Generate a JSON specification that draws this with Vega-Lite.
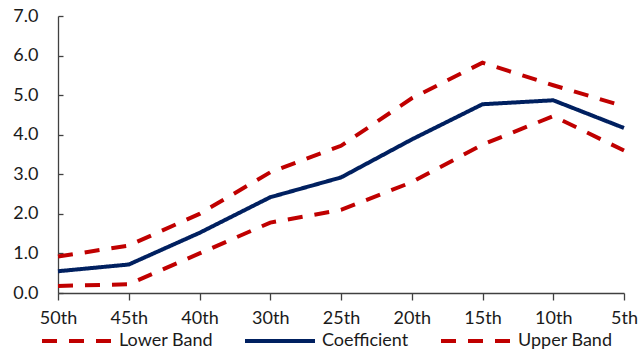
{
  "$schema": "https://vega.github.io/schema/vega-lite/v6.json",
  "autosize": "none",
  "width": 566,
  "height": 277,
  "padding": {"left": 58, "top": 16, "right": 15, "bottom": 57},
  "background": "white",
  "config": {
    "view": {"stroke": null},
    "font": "Lato",
    "axis": {"grid": false, "domainColor": "#404040", "tickColor": "#404040", "labelColor": "#1a1a1a", "labelFont": "Lato", "labelFontSize": 18, "domainWidth": 1.3, "tickWidth": 1.3}
  },
  "data": {"values": [
    {"pct": "50th", "series": "Coefficient", "value": 0.55},
    {"pct": "45th", "series": "Coefficient", "value": 0.72},
    {"pct": "40th", "series": "Coefficient", "value": 1.52},
    {"pct": "30th", "series": "Coefficient", "value": 2.42},
    {"pct": "25th", "series": "Coefficient", "value": 2.92},
    {"pct": "20th", "series": "Coefficient", "value": 3.88},
    {"pct": "15th", "series": "Coefficient", "value": 4.77},
    {"pct": "10th", "series": "Coefficient", "value": 4.87},
    {"pct": "5th", "series": "Coefficient", "value": 4.17},
    {"pct": "50th", "series": "Upper Band", "value": 0.92},
    {"pct": "45th", "series": "Upper Band", "value": 1.2},
    {"pct": "40th", "series": "Upper Band", "value": 2.0},
    {"pct": "30th", "series": "Upper Band", "value": 3.05},
    {"pct": "25th", "series": "Upper Band", "value": 3.72},
    {"pct": "20th", "series": "Upper Band", "value": 4.92},
    {"pct": "15th", "series": "Upper Band", "value": 5.82},
    {"pct": "10th", "series": "Upper Band", "value": 5.25},
    {"pct": "5th", "series": "Upper Band", "value": 4.72},
    {"pct": "50th", "series": "Lower Band", "value": 0.18},
    {"pct": "45th", "series": "Lower Band", "value": 0.22},
    {"pct": "40th", "series": "Lower Band", "value": 1.0},
    {"pct": "30th", "series": "Lower Band", "value": 1.78},
    {"pct": "25th", "series": "Lower Band", "value": 2.1},
    {"pct": "20th", "series": "Lower Band", "value": 2.8},
    {"pct": "15th", "series": "Lower Band", "value": 3.75},
    {"pct": "10th", "series": "Lower Band", "value": 4.47},
    {"pct": "5th", "series": "Lower Band", "value": 3.6}
  ]},
  "mark": {"type": "line", "strokeWidth": 4},
  "encoding": {
    "x": {"field": "pct", "type": "ordinal", "sort": ["50th","45th","40th","30th","25th","20th","15th","10th","5th"],
      "scale": {"type": "point", "padding": 0},
      "axis": {"title": null, "labelAngle": 0, "tickSize": 7, "labelPadding": 9}},
    "y": {"field": "value", "type": "quantitative", "scale": {"domain": [0, 7]},
      "axis": {"title": null, "values": [0,1,2,3,4,5,6,7], "format": ".1f", "tickSize": -5, "labelPadding": 25}},
    "color": {"field": "series", "type": "nominal",
      "scale": {"domain": ["Lower Band", "Coefficient", "Upper Band"], "range": ["#C00000", "#002060", "#C00000"]},
      "legend": {"title": null, "orient": "none", "legendX": -18, "legendY": 288, "direction": "horizontal",
        "symbolType": "stroke", "symbolSize": 4900, "symbolStrokeWidth": 4, "labelFontSize": 18, "labelColor": "#1a1a1a",
        "labelFont": "Lato", "columnPadding": 24, "labelOffset": 5, "padding": 0, "labelLimit": 300}},
    "strokeDash": {"field": "series", "type": "nominal",
      "scale": {"domain": ["Lower Band", "Coefficient", "Upper Band"], "range": [[15, 12], [1, 0], [15, 12]]},
      "legend": null}
  }
}
